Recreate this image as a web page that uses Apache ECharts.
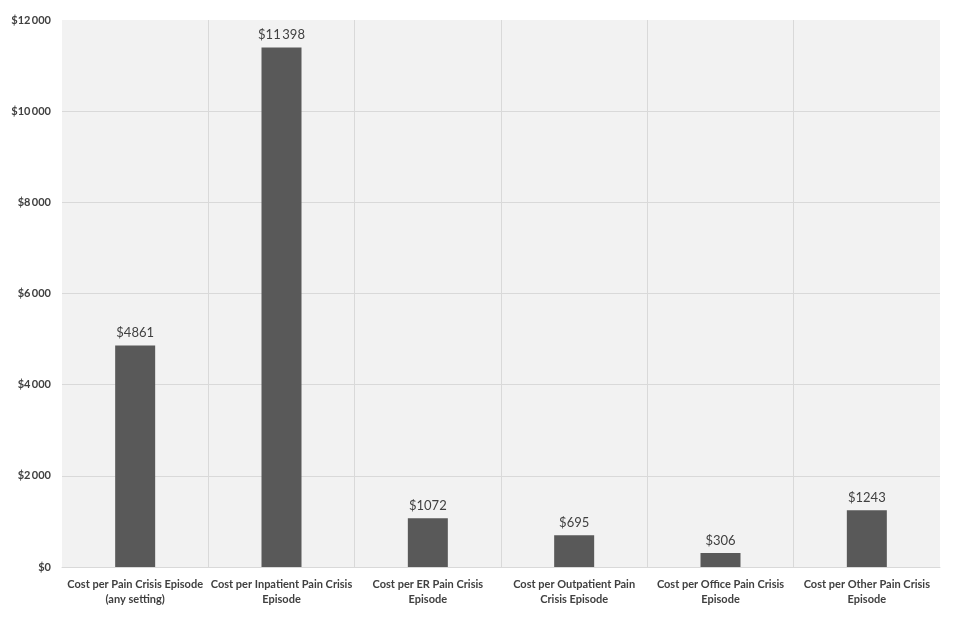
<!DOCTYPE html>
<html><head><meta charset="utf-8">
<script src="https://cdn.jsdelivr.net/npm/echarts@6/dist/echarts.min.js"></script>
<style>html,body{margin:0;padding:0;background:#fff}#c{width:962px;height:618px}</style>
</head><body><div id="c"></div>
<script>
const categories = [
  "Cost per Pain Crisis Episode\n(any setting)",
  "Cost per Inpatient Pain Crisis\nEpisode",
  "Cost per ER Pain Crisis\nEpisode",
  "Cost per Outpatient Pain\nCrisis Episode",
  "Cost per Office Pain Crisis\nEpisode",
  "Cost per Other Pain Crisis\nEpisode"
];
const values = [4861, 11398, 1072, 695, 306, 1243];
const valueLabels = ["$4861", "$11\u2009398", "$1072", "$695", "$306", "$1243"];
const yTickLabels = {0:"$0",2000:"$2\u2009000",4000:"$4\u2009000",6000:"$6\u2009000",8000:"$8\u2009000",10000:"$10\u2009000",12000:"$12\u2009000"};

const G = '#d9d9d9', T = 'rgba(0,0,0,0)';
const chart = echarts.init(document.getElementById('c'));
chart.setOption({
  animation: false,
  grid: {left: 62, right: 22, top: 20, bottom: 51, show: true, backgroundColor: '#f2f2f2', borderWidth: 0},
  xAxis: {
    type: 'category', data: categories,
    axisLine: {show: true, lineStyle: {color: G, width: 1}},
    axisTick: {show: false},
    splitLine: {show: true, lineStyle: {color: [T, G, G, G, G, G, T], width: 1}},
    axisLabel: {color: '#404040', fontFamily: 'Lato', fontWeight: 'bold', fontSize: 11, lineHeight: 15, margin: 10, interval: 0}
  },
  yAxis: {
    type: 'value', min: 0, max: 12000, interval: 2000,
    axisLine: {show: false}, axisTick: {show: false},
    splitLine: {lineStyle: {color: [G, G, G, G, G, G, T], width: 1}},
    axisLabel: {color: '#404040', fontFamily: 'Lato', fontWeight: 'bold', fontSize: 11, margin: 11,
      formatter: v => yTickLabels[v] !== undefined ? yTickLabels[v] : ''}
  },
  series: [{
    type: 'bar', data: values, barWidth: 40,
    itemStyle: {color: '#595959'},
    label: {show: true, position: 'top', distance: 6, color: '#404040', fontFamily: 'Lato', fontSize: 13,
      formatter: p => valueLabels[p.dataIndex]}
  }]
});
</script></body></html>
